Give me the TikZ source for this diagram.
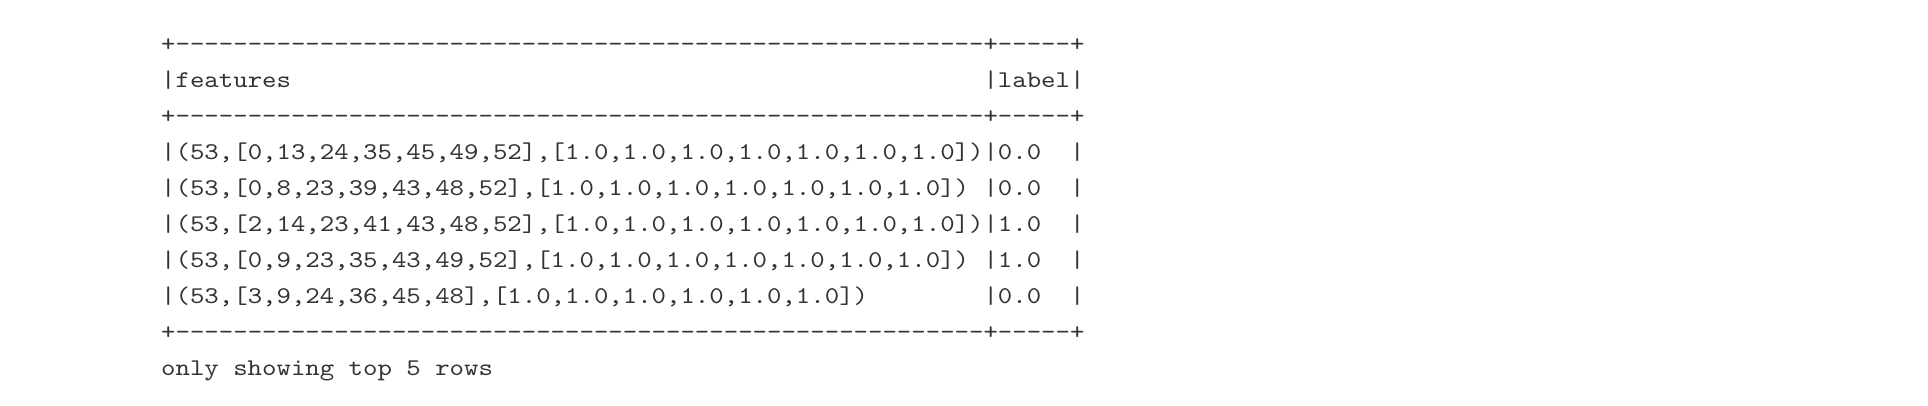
\documentclass[tikz,border=0pt]{standalone}
\usepackage{fontspec}
\newfontfamily\mono[Extension=.otf, Ligatures=TeXOff, FakeStretch=1.145]{lmmono10-regular}
\definecolor{txt}{HTML}{333333}
\newcommand\blk{\hphantom{0}}
\newcommand\blkeight{\blk\blk\blk\blk\blk\blk\blk\blk}
\newcommand\dten{----------}
\newcommand\borderline{+\dten\dten\dten\dten\dten------+-----+}
\begin{document}
\begin{tikzpicture}[x=1pt,y=-1pt,
  row/.style={anchor=base west, inner sep=0pt, text=txt, font=\mono\fontsize{24}{24}\selectfont}]
\useasboundingbox[fill=white] (0,0) rectangle (1928,406);
\node[row] (l1) at (161,51.5) {\borderline};
\node[row] (l2) at (161,87.5) {|features\blkeight\blkeight\blkeight\blkeight\blkeight\blkeight|label|};
\node[row] (l3) at (161,123.5) {\borderline};
\node[row] (l4) at (161,159.5) {|(53,[0,13,24,35,45,49,52],[1.0,1.0,1.0,1.0,1.0,1.0,1.0])|0.0\blk\blk|};
\node[row] (l5) at (161,195.5) {|(53,[0,8,23,39,43,48,52],[1.0,1.0,1.0,1.0,1.0,1.0,1.0])\blk|0.0\blk\blk|};
\node[row] (l6) at (161,231.5) {|(53,[2,14,23,41,43,48,52],[1.0,1.0,1.0,1.0,1.0,1.0,1.0])|1.0\blk\blk|};
\node[row] (l7) at (161,267.5) {|(53,[0,9,23,35,43,49,52],[1.0,1.0,1.0,1.0,1.0,1.0,1.0])\blk|1.0\blk\blk|};
\node[row] (l8) at (161,303.5) {|(53,[3,9,24,36,45,48],[1.0,1.0,1.0,1.0,1.0,1.0])\blkeight|0.0\blk\blk|};
\node[row] (l9) at (161,339.5) {\borderline};
\node[row] (l10) at (161,375.5) {only\blk showing\blk top\blk 5\blk rows};
\end{tikzpicture}
\end{document}
